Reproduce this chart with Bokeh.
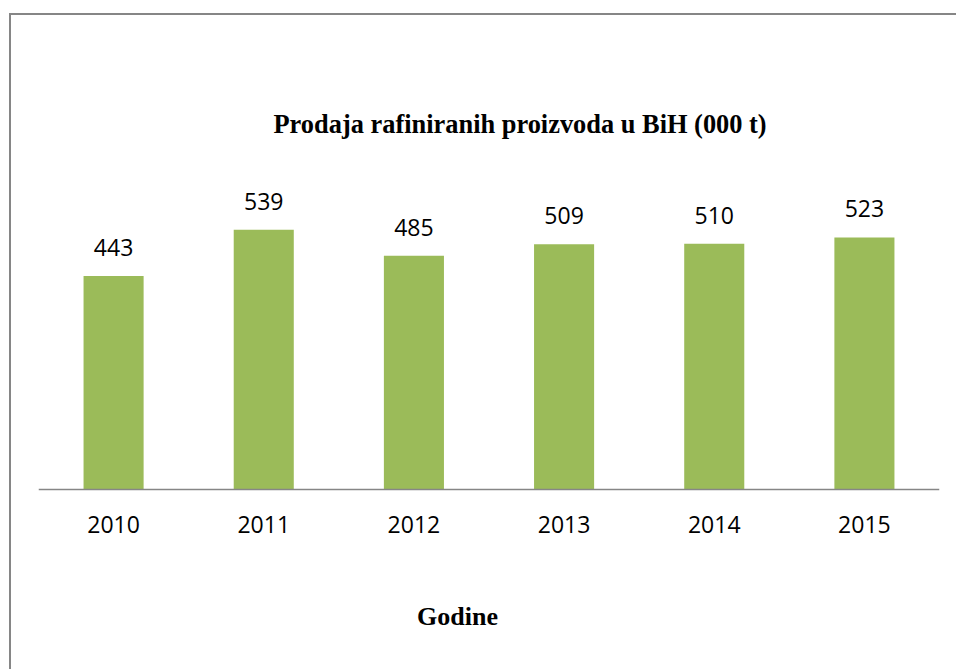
from bokeh.plotting import figure
from bokeh.models import ColumnDataSource, LabelSet, FactorRange, Label
from bokeh.core.properties import value
from bokeh.embed import file_html
from bokeh.resources import INLINE

years = ["2010", "2011", "2012", "2013", "2014", "2015"]
sales = [443, 539, 485, 509, 510, 523]
title_text = "Prodaja rafiniranih proizvoda u BiH (000 t)"
x_title = "Godine"

# layout (pixels): frame height above the baseline and below it
Y_TOP = 720
PX_ABOVE = 347
PX_BELOW = 182
y_start = -Y_TOP * PX_BELOW / PX_ABOVE
godine_y = -Y_TOP * 127 / PX_ABOVE

src = ColumnDataSource(dict(x=years, y=sales, lbl=[str(v) for v in sales]))

p = figure(width=947, height=656, x_range=FactorRange(*years), y_range=(y_start, Y_TOP),
           output_backend="svg", toolbar_location=None,
           min_border_left=27, min_border_right=19, min_border_top=127, min_border_bottom=0,
           styles={"margin-left": "9px", "margin-top": "13px",
                   "border-left": "2px solid #868686", "border-top": "2px solid #868686"})
p.outline_line_color = None
p.grid.grid_line_color = None
p.yaxis.visible = False
p.x_range.range_padding = 0
p.x_range.factor_padding = 0

p.vbar(x="x", top="y", bottom=0, width=0.4, source=src, fill_color="#9BBB59", line_color=None)

labels = LabelSet(x="x", y="y", text="lbl", source=src, y_offset=20,
                  text_align="center", text_baseline="alphabetic",
                  text_font=value("Open Sans"), text_font_size=value("23px"), text_color="#000000")
p.add_layout(labels)

ax = p.xaxis[0]
ax.fixed_location = 0
ax.axis_line_color = "#868686"
ax.axis_line_width = 1.5
ax.major_tick_line_color = None
ax.minor_tick_line_color = None
ax.major_label_text_font = "Open Sans"
ax.major_label_text_font_size = "23px"
ax.major_label_text_color = "#000000"
ax.major_label_standoff = 20

p.title.text = title_text
p.title.align = "left"
p.title.offset = 235
p.title.standoff = 7
p.title.text_font = "Liberation Serif"
p.title.text_font_style = "bold"
p.title.text_font_size = "26.4px"
p.title.text_color = "#000000"

p.add_layout(Label(x=419, y=godine_y, x_units="screen", y_units="data", text=x_title,
                   text_align="center", text_baseline="alphabetic",
                   text_font="Liberation Serif", text_font_style="bold",
                   text_font_size="26px", text_color="#000000"))

open("out.html", "w").write(file_html(p, INLINE))
